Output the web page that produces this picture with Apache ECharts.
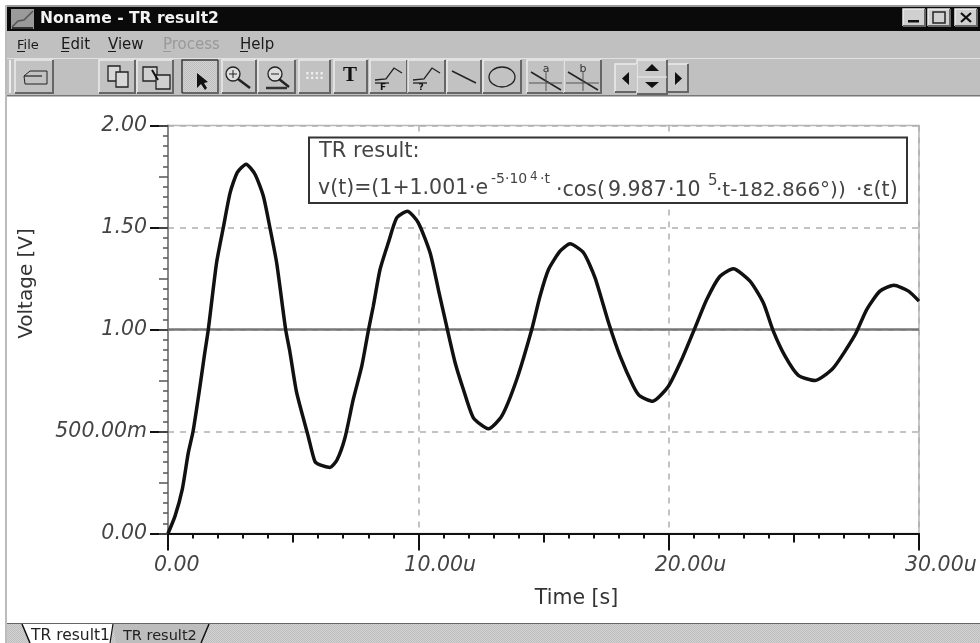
<!DOCTYPE html>
<html><head><meta charset="utf-8">
<style>html,body{margin:0;padding:0;background:#fff}#c{width:980px;height:643px}</style>
<script src="https://cdn.jsdelivr.net/npm/echarts@6/dist/echarts.min.js"></script>
</head><body><div id="c"></div>
<script>
const timeMicro = [0,0.28,0.57,0.81,1.0,1.24,1.45,1.61,1.94,2.21,2.48,2.77,3.12,3.48,3.81,4.07,4.34,4.70,4.87,5.14,5.6,5.87,6.1,6.47,6.75,7.07,7.4,7.74,8.0,8.2,8.47,8.8,9.14,9.56,10,10.47,10.8,11.13,11.47,11.8,12.2,12.8,13.33,13.93,14.53,14.86,15.2,15.66,16.06,16.6,17.06,17.6,18.06,18.59,18.86,19.36,19.99,20.52,21.05,21.52,22.05,22.58,23.25,23.78,24.18,24.65,25.18,25.85,26.58,27.45,27.91,28.44,29,29.58,30];
const voltage = [0,0.085,0.216,0.395,0.5,0.69,0.87,1.0,1.327,1.5,1.67,1.77,1.81,1.76,1.653,1.5,1.327,1.0,0.89,0.69,0.477,0.353,0.335,0.324,0.36,0.469,0.657,0.82,0.992,1.114,1.294,1.425,1.548,1.58,1.523,1.376,1.196,1.016,0.837,0.706,0.567,0.513,0.575,0.755,1.0,1.163,1.294,1.384,1.42,1.376,1.253,1.033,0.869,0.722,0.673,0.648,0.722,0.853,1.008,1.147,1.261,1.298,1.237,1.131,0.992,0.869,0.775,0.75,0.812,0.975,1.098,1.188,1.217,1.188,1.139];
const levelTimes = [0,30];
const levelValues = [1,1];
const xTickLabels = ["0.00","10.00u","20.00u","30.00u"];
const yTickLabels = ["0.00","500.00m","1.00","1.50","2.00"];
const menuItems = ["File","Edit","View","Process","Help"];
const FONT = '"DejaVu Sans", sans-serif';
const G = [];
function rect(x,y,w,h,fill,z){G.push({type:'rect',z:z||1,shape:{x,y,width:w,height:h},style:{fill}});}
function line(pts,stroke,w,z,fill){G.push({type:'polyline',z:z||3,shape:{points:pts},style:{stroke,lineWidth:w||1,fill:fill||null}});}
function poly(pts,fill,z,stroke){G.push({type:'polygon',z:z||3,shape:{points:pts},style:{fill,stroke:stroke||null,lineWidth:1}});}
function txt(x,y,text,o){o=o||{};const s=o.size||16;G.push({type:'text',z:o.z||4,x,y:y-0.26*s,style:{text,fill:o.fill||'#222',font:(o.weight||'normal')+' '+s+'px '+FONT,verticalAlign:'middle',align:o.align||'left'}});}
function btn(x0,x1,y0,y1,fill){rect(x0,y0,x1-x0,y1-y0,fill||'#c2c2c2',2);
 line([[x0,y1],[x0,y0],[x1,y0]],'#ececec',1.5,2);line([[x0,y1],[x1,y1],[x1,y0]],'#666',2,2);}
const cv=document.createElement('canvas');cv.width=cv.height=2;const cx=cv.getContext('2d');
cx.fillStyle='#d2d2d2';cx.fillRect(0,0,2,2);cx.fillStyle='#bebebe';cx.fillRect(0,0,1,1);cx.fillRect(1,1,1,1);
const dither={image:cv,repeat:'repeat'};
// window chrome
rect(5,5,975,2,'#999');rect(5,5,2,638,'#bbb');
rect(7,7,973,24,'#0a0a0a');
rect(7,31,973,27,'#c0c0c0');rect(7,58,973,37,'#c0c0c0');rect(7,58,973,1,'#e2e2e2');rect(7,95,973,1.5,'#777');
rect(7,623,973,20,dither);rect(7,623,973,1,'#666');
// title
rect(11,9,23,20,'#9a9a9a',2);line([[12,27],[18,21],[24,20],[33,11]],'#555',1.5);line([[12,28],[33,28]],'#333',2);
txt(40,23,'Noname - TR result2',{fill:'#f2f2f2',weight:'bold',size:15.5});
btn(903,925,9,26,'#d0d0d0');rect(908,20,11,2.5,'#111',3);
btn(928,950,9,26,'#d0d0d0');G.push({type:'rect',z:3,shape:{x:933,y:12,width:12,height:11},style:{fill:'none',stroke:'#222',lineWidth:1.5}});
btn(955,977,9,26,'#d0d0d0');line([[961,13],[971,22]],'#111',2.2);line([[971,13],[961,22]],'#111',2.2);
// menu
const menuX=[17,61,108,163,240];
menuItems.forEach((m,i)=>{const c=m==='Process'?'#999':'#1a1a1a';txt(menuX[i],49,m,{size:m==='File'?13:15,fill:c});
 rect(menuX[i],51,8,1,c,4);});
// toolbar
rect(9,60,2,33,'#eee');
btn(15,53,60,93);
poly([[24,76],[30,71],[47,71],[47,84],[25,84]],'#c2c2c2',3,'#222');line([[24,76],[42,76]],'#222',1.2);
btn(99,135,60,93);btn(137,173,60,93);
[[108,66],[116,72]].forEach(p=>G.push({type:'rect',z:3,shape:{x:p[0],y:p[1],width:12,height:15},style:{fill:'#d8d8d8',stroke:'#222',lineWidth:1.3}}));
[[143,67],[156,75]].forEach(p=>G.push({type:'rect',z:3,shape:{x:p[0],y:p[1],width:14,height:14},style:{fill:'#d0d0d0',stroke:'#222',lineWidth:1.3}}));
line([[152,70],[158,80]],'#111',2);
btn(182,218,60,93,dither);line([[182,93],[182,60],[218,60]],'#333',1.5,3);
poly([[197,73],[197,88],[201,84],[205,90],[207,88],[204,83],[208,82]],'#111');
btn(222,256,60,93);
G.push({type:'circle',z:3,shape:{cx:233,cy:74,r:7},style:{fill:'#ddd',stroke:'#222',lineWidth:1.3}});line([[238,79],[250,88]],'#222',2.5);line([[229,74],[237,74]],'#222',1);line([[233,70],[233,78]],'#222',1);
btn(258,295,60,93);
G.push({type:'circle',z:3,shape:{cx:275,cy:74,r:7},style:{fill:'#ddd',stroke:'#222',lineWidth:1.3}});line([[279,79],[289,87]],'#222',2.5);line([[271,74],[279,74]],'#222',1);line([[266,88],[287,88]],'#333',2.5);
btn(299,330,60,93);
G.push({type:'text',z:4,x:314.5,y:76,style:{text:'::::',fill:'#eee',font:'bold 12px '+FONT,align:'center',verticalAlign:'middle'}});
btn(334,367,60,93);
G.push({type:'text',z:4,x:350,y:76,style:{text:'T',fill:'#111',font:'bold 21px "Liberation Serif", serif',align:'center',verticalAlign:'middle'}});
[[370,'F'],[408,'?']].forEach(b=>{btn(b[0],b[0]+37,60,93);line([[b[0]+5,80],[b[0]+16,79],[b[0]+24,68],[b[0]+32,73]],'#222',1.3);line([[b[0]+5,83],[b[0]+19,83]],'#222',1.3);
 G.push({type:'text',z:4,x:b[0]+13,y:88,style:{text:b[1],fill:'#111',font:'bold 9px '+FONT,align:'center',verticalAlign:'middle'}});});
btn(447,481,60,93);line([[452,71],[476,83]],'#222',1.5);
btn(483,521,60,93);G.push({type:'ellipse',z:3,shape:{cx:502,cy:77,rx:13,ry:10},style:{fill:'none',stroke:'#222',lineWidth:1.3}});
[[527,'a'],[564,'b']].forEach(b=>{btn(b[0],b[0]+37,60,93);line([[b[0]+4,72],[b[0]+34,90]],'#222',1.5);line([[b[0]+2,83],[b[0]+35,83]],'#555',1);line([[b[0]+19,72],[b[0]+19,91]],'#555',1);
 G.push({type:'text',z:4,x:b[0]+19,y:69,style:{text:b[1],fill:'#333',font:'11px '+FONT,align:'center',verticalAlign:'middle'}});});
btn(615,637,64,92,'#c8c8c8');poly([[629,72],[629,85],[622,78.5]],'#111');
btn(667,688,64,92,'#c8c8c8');poly([[675,72],[675,85],[682,78.5]],'#111');
btn(637,667,60,94,'#c8c8c8');line([[637,77],[667,77]],'#eee',1);poly([[645,71],[659,71],[652,64]],'#111');poly([[645,82],[659,82],[652,88]],'#111');
// tabs
poly([[22,624],[113,624],[110,643],[30,643]],'#fff',2);line([[22,624],[30,643]],'#111',1.5);line([[113,624],[110,643]],'#111',1.2);
poly([[113,624],[209,624],[201,643],[116,643]],'#bdbdbd',2);line([[209,624],[201,643]],'#111',1.5);
txt(31,640,'TR result1',{size:15.5,fill:'#222'});txt(123,640,'TR result2',{size:14.5,fill:'#222'});
// annotation box
G.push({type:'rect',z:10,shape:{x:309,y:137.5,width:598,height:65.5},style:{fill:'#fff',stroke:'#333',lineWidth:2}});
const A={z:11,fill:'#444',size:20.5}, S={z:11,fill:'#444',size:14}, F=Object.assign;
txt(319,157,'TR result:',F({},A,{size:21}));
txt(318,194,'v(t)=(1+1.001',A);
txt(469,194,'·e',A);
txt(491,183,'-5·10',S);
txt(530,180,'4',F({},S,{size:12}));
txt(540,183,'·t',S);
txt(556,196,'·cos(',A);
txt(608,196,'9.987',A);
txt(668,196,'·10',A);
txt(708,185,'5',F({},S,{size:15}));
txt(716,196,'·t-182.866°))',F({},A,{size:20}));
txt(856,196,'·ε(t)',A);

const labelFont={fontFamily:FONT,fontStyle:'italic',fontSize:20.5,color:'#444'};
const pairs=(a,b)=>a.map((t,i)=>[t,b[i]]);
const xL=v=>xTickLabels[Math.round(v/10)]||'';
const yL=v=>yTickLabels[Math.round(v/0.5)]||'';
const GRID={left:168,top:125.5,width:751,height:408,show:true,borderColor:'#b5b5b5',borderWidth:1.5,backgroundColor:'#fff'};
const chart=echarts.init(document.getElementById('c'),null,{renderer:'canvas'});
chart.setOption({
 animation:false,backgroundColor:'#fff',
 grid:GRID,
 xAxis:[
  {type:'value',min:0,max:30,interval:10,position:'bottom',axisLine:{onZero:false,lineStyle:{color:'#111',width:2}},
   axisTick:{length:17,lineStyle:{color:'#111',width:2}},splitLine:{show:true,lineStyle:{color:'#b0b0b0',type:[6,6],width:1.5}},
   axisLabel:Object.assign({},labelFont,{formatter:xL,margin:22,align:'left',padding:[0,0,0,-14],showMinLabel:true,showMaxLabel:true,hideOverlap:false}),
   name:'Time [s]',nameLocation:'middle',nameGap:55,nameTextStyle:{fontFamily:FONT,fontSize:20.5,color:'#333',padding:[0,0,0,66]}},
  {type:'value',min:0,max:30,interval:5,position:'bottom',axisLine:{show:false,onZero:false},axisTick:{length:9,lineStyle:{color:'#111',width:2}},
   minorTick:{show:true,splitNumber:5,length:5,lineStyle:{color:'#111',width:2}},axisLabel:{show:false},splitLine:{show:false}}
 ],
 yAxis:[
  {type:'value',min:0,max:2,interval:0.5,position:'left',axisLine:{onZero:false,lineStyle:{color:'#888',width:2}},
   axisTick:{length:18,lineStyle:{color:'#111',width:2}},splitLine:{show:true,lineStyle:{color:'#b0b0b0',type:[6,6],width:1.5}},
   axisLabel:Object.assign({},labelFont,{formatter:yL,margin:21}),
   name:'Voltage [V]',nameLocation:'middle',nameGap:131,nameTextStyle:{fontFamily:FONT,fontSize:20,color:'#333',padding:[0,0,0,92]}},
  {type:'value',min:0,max:2,interval:0.25,position:'left',axisLine:{show:false,onZero:false},axisTick:{length:9,lineStyle:{color:'#555',width:1.5}},
   minorTick:{show:true,splitNumber:5,length:5,lineStyle:{color:'#555',width:1.5}},axisLabel:{show:false},splitLine:{show:false}}
 ],
 series:[
  {name:'Level',type:'line',data:pairs(levelTimes,levelValues),symbol:'none',silent:true,z:2,lineStyle:{color:'#777',width:2.5}},
  {name:'v(t)',type:'line',data:pairs(timeMicro,voltage),symbol:'none',smooth:0.2,z:3,clip:true,lineStyle:{color:'#111',width:3.5}}
 ],
 graphic:G
});
</script></body></html>
